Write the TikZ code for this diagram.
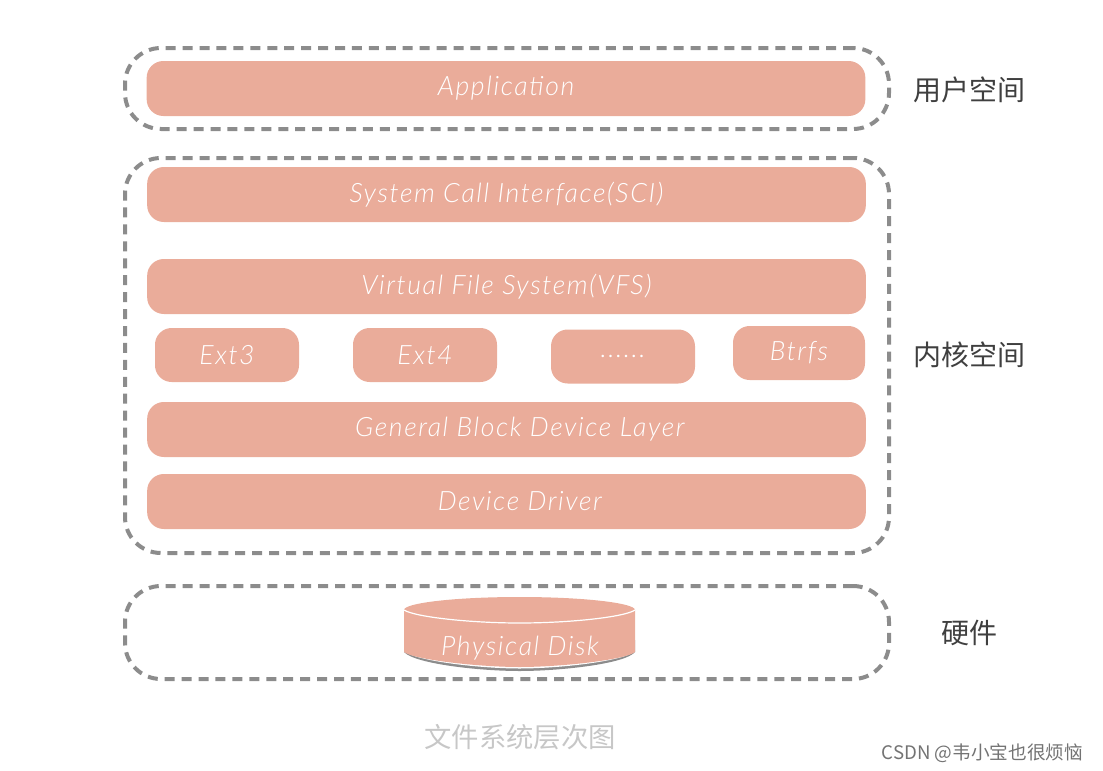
\documentclass[tikz,border=0pt]{standalone}
\usepackage{fontspec}
\setmainfont{Lato}
\newfontfamily\cjk{Noto Sans CJK SC}
\newfontfamily\hand[LetterSpace=6]{Lato Light Italic}
\definecolor{salmon}{HTML}{EAAC9A}
\definecolor{dashgrey}{HTML}{8C8C8C}
\definecolor{labelink}{HTML}{3F3F3F}
\tikzset{
  x=0.75pt,y=-0.75pt,
  layerbox/.style={fill=salmon,draw=none,rounded corners=12.5pt,inner sep=0pt,text=white,font=\hand\fontsize{20}{24}\selectfont},
  widebar/.style={layerbox,minimum width=539pt,minimum height=41.25pt},
  fsbox/.style={layerbox,minimum width=108pt,minimum height=40.5pt},
  zone/.style={draw=dashgrey,line width=3pt,dash pattern=on 7.5pt off 5.2pt,rounded corners=27pt,fill=none,inner sep=0pt},
  spacelabel/.style={text=labelink,inner sep=0pt,font=\cjk\fontsize{21}{24}\selectfont},
}
\begin{document}
\begin{tikzpicture}
\useasboundingbox (0,0) rectangle (1103,771);
% zones
\node[zone,minimum width=573pt,minimum height=60.75pt] (userzone) at (507,88.5) {};
\node[zone,minimum width=573pt,minimum height=296.25pt] (kernelzone) at (507,355.5) {};
\node[zone,minimum width=573pt,minimum height=69.75pt] (hwzone) at (507,632.5) {};
% bars
\node[widebar] (app) at (506,88.5) {\raisebox{-2pt}{Application}};
\node[widebar] (sci) at (506.5,194.5) {\raisebox{-2pt}{System Call Interface(SCI)}};
\node[widebar] (vfs) at (506.5,286.5) {\raisebox{-1pt}{Virtual File System(VFS)}};
\node[fsbox] (ext3) at (227,355) {Ext3};
\node[fsbox] (ext4) at (425,355) {Ext4};
\node[fsbox] (dots) at (623,356.5) {......};
\node[layerbox,minimum width=99pt,minimum height=40.5pt] (btrfs) at (799,353) {Btrfs};
\node[widebar] (gbd) at (506.5,429.5) {\hspace{20pt}General Block Device Layer};
\node[widebar] (dd) at (506.5,501.5) {\hspace{20pt}\raisebox{-2pt}{Device Driver}};
% disk
\fill[black!45] (404,640) -- (404,652) .. controls (415,664) and (480,671) .. (519.5,671) .. controls (560,671) and (625,664) .. (635,652) -- (635,640) -- cycle;
\fill[white] (404,640) -- (404,651) .. controls (415,661) and (480,668.5) .. (519.5,668.5) .. controls (560,668.5) and (625,661) .. (635,651) -- (635,640) -- cycle;
\fill[salmon] (404,610) .. controls (404,603) and (455,597) .. (519.5,597) .. controls (584,597) and (635,603) .. (635,610) -- (635,652) .. controls (625,660) and (560,667) .. (519.5,667) .. controls (480,667) and (415,660) .. (404,652) -- cycle;
\draw[white,line width=0.9pt] (404,610) .. controls (415,617) and (470,623) .. (519.5,623) .. controls (570,623) and (625,617) .. (635,610);
\node[inner sep=0pt,text=white,font=\hand\fontsize{20}{24}\selectfont] (disk) at (520,648) {Physical Disk};
% labels
\node[spacelabel] (userlabel) at (969,90) {用户空间};
\node[spacelabel] (kernellabel) at (969,355) {内核空间};
\node[spacelabel] (hwlabel) at (969,633) {硬件};
\node[inner sep=0pt,text=black!22,font=\cjk\fontsize{20.5}{24}\selectfont] (caption) at (520,737) {文件系统层次图};
\node[inner sep=0pt,text=black!55,font=\cjk\fontsize{14}{16}\selectfont] (mark) at (982.5,753) {CSDN @韦小宝也很烦恼};
\end{tikzpicture}
\end{document}
